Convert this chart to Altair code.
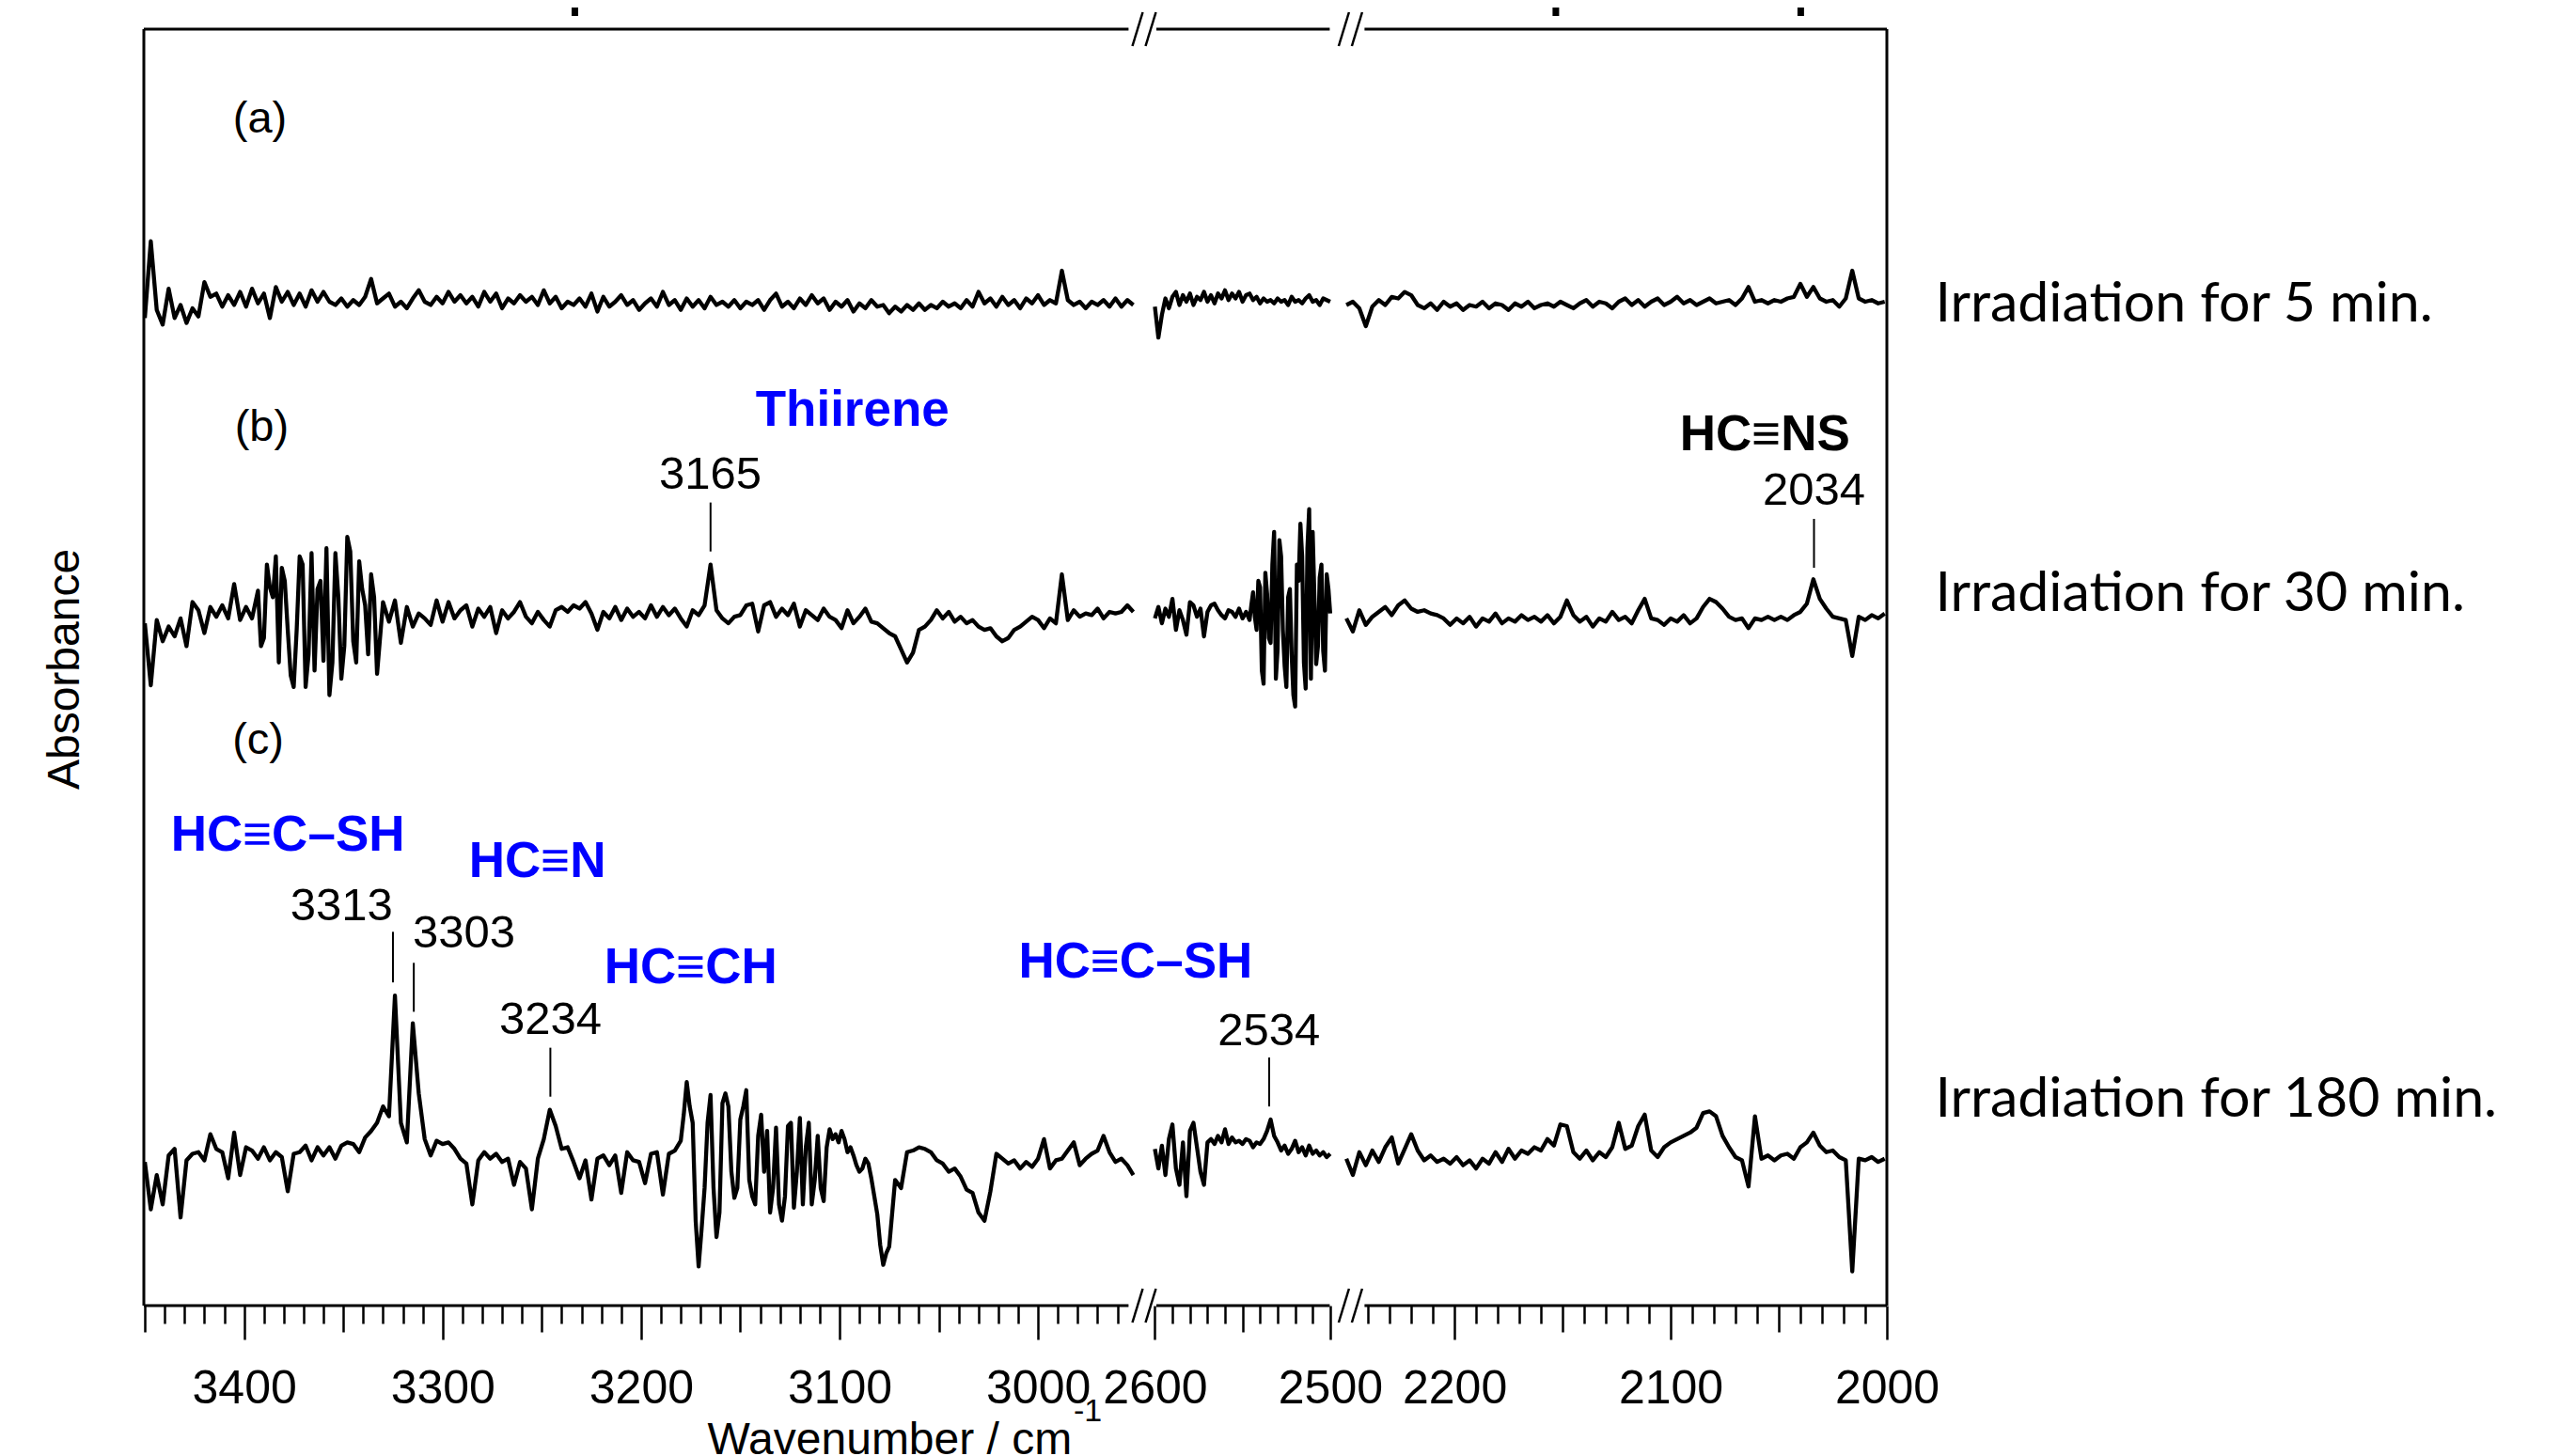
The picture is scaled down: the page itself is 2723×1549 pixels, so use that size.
import altair as alt
import pandas as pd

# ---------------- data ----------------
# baselines of the three spectra (arbitrary absorbance units)
OFFSETS = {"a": 615, "b": 424, "c": 92}
# segment grids: start wavenumber and step (cm-1)
SEG1_START, SEG1_STEP = 3450, 3
SEG2_START, SEG2_STEP = 2600, 2
SEG3_START, SEG3_STEP = 2250, 3

A_SEG1 = [-10, 37, -5, -14, 8, -10, -2, -13, -4, -9,
          12, 3, 5, -3, 4, -2, 6, -3, 8, -1,
          5, -10, 9, 0, 6, -2, 5, -3, 7, 0,
          6, 0, -2, 2, -3, 1, -2, 3, 14, -1,
          2, 5, -3, 0, -4, 2, 7, 0, -2, 3,
          -1, 6, 0, 4, -1, 3, -3, 6, 0, 5,
          -4, 2, -1, 4, 0, 3, -2, 7, -1, 3,
          -4, 0, -2, 2, -3, 5, -6, 3, -3, 0,
          4, -2, 1, -5, -1, 2, -3, 6, -2, 1,
          -5, 2, -3, 1, -4, 3, -2, 0, -3, 1,
          -4, 0, -2, 1, -5, 1, 5, -3, 0, -4,
          2, -2, 4, -1, 2, -5, 0, -3, 1, -6,
          -1, -4, 1, -3, -2, -7, -3, -6, -2, -5,
          -1, -5, -2, -4, 0, -3, -1, -4, 1, -3,
          6, -1, 2, -3, 3, -2, 1, -4, 2, -1,
          4, -2, 1, -1, 19, 1, -2, 0, -4, 0,
          -2, 1, -3, 2, -3, 1, -2]
A_SEG2 = [-3, -22, -8, 2, -4, 3, 6, -2, 4, 0,
          5, -2, 3, 1, 6, 0, 4, -1, 5, 2,
          7, 1, 5, 2, 6, 0, 4, 5, 1, 3,
          -1, 2, 0, 1, -1, 2, 0, 1, -2, 3,
          0, 1, -1, 2, 4, 0, 1, -2, 2, 1, 0]
A_SEG3 = [-2, 0, -4, -15, -3, 1, -2, 3, 2, 6,
          4, -2, -4, -1, -5, 0, -3, -1, -5, -2,
          -3, 0, -4, -1, -2, -5, -1, -3, 0, -4,
          -2, -1, -3, 0, -2, -4, -1, 1, -3, 0,
          -1, -4, 0, 2, -2, 1, -3, 0, 2, -2,
          0, 3, -1, 1, -2, 0, 2, -1, 0, 1,
          -2, 2, 9, 0, 1, -1, 1, 0, 2, 3,
          11, 3, 9, 2, 0, 1, -3, 2, 19, 2,
          0, 1, -1, 0]

B_SEG1 = [-6, -44, -4, -17, -8, -14, -3, -20, 7, 2,
          -12, 4, -2, 5, -3, 18, -4, 4, -3, 14,
          -15, 16, 35, 28, -10, -45, 35, -45, 37, 15,
          -29, -50, 37, -40, 47, -17, 32, 5, 24, -37,
          7, -5, 8, -18, 4, -8, 0, -3, -7, 8,
          -5, 7, -3, 2, 5, -8, 3, -2, 4, -12,
          2, -3, 1, 7, -2, -6, 1, -4, -8, 2,
          4, 1, 5, 3, 7, 0, -10, 1, -3, 4,
          -4, 3, -2, 1, -3, 5, -2, 4, -1, 3,
          -3, -8, 2, -1, 5, 30, 2, -3, -6, -2,
          -1, 5, 6, -11, 5, 7, -2, 3, -1, 6,
          -8, 2, -1, -4, 3, -2, -4, -9, 2, -6,
          -2, 3, -5, -6, -9, -12, -14, -22, -30, -24,
          -10, -8, -4, 2, -3, 1, -5, -2, -6, -4,
          -8, -10, -9, -14, -17, -15, -10, -8, -5, -2,
          -4, -9, -3, -6, 24, -4, 2, -2, 0, -1,
          3, -3, 1, 0, 1, 5, 1]
# extra readings half-way between grid points in the noisiest stretch (from index 19)
B_SEG1_MID_FROM = 19
B_SEG1_MID = [-20, 30, 10, -30, 20, -38, -10, 30, -25, -35,
              20, 40, -30, 10, -20, 38, -30, 15, -25, 10]
B_SEG2 = [-3, 4, -6, 3, -2, 9, -10, 2, -4, -13,
          7, 5, -2, 3, -14, 1, 5, 6, 2, -1,
          -3, 2, 1, -2, 3, -3, 1, -4, 13, -10,
          16, -43, 12, -18, 50, -22, 35, -32, 10, -25,
          -57, 20, 35, -46, 64, 50, -31, 22, -23, 24, 0]
B_SEG2_MID_FROM = 27
B_SEG2_MID = [5, -2, 20, -35, 25, -15, 30, -40, 45, -10,
              -45, 15, -50, 30, 55, -30, 40, -40, 10, -20,
              30, -35, 15]
B_SEG3 = [-3, -11, 2, -7, -2, 1, 4, -1, 5, 8,
          3, 1, 2, 0, -1, -3, -7, -3, -6, -2,
          -8, -3, -5, 0, -6, -3, -5, -1, -4, -2,
          -5, -1, -6, -2, 8, -1, -5, -2, -8, -3,
          -5, 1, -4, -2, -6, 2, 9, -3, -4, -7,
          -3, -5, -1, -6, -3, 4, 9, 7, 3, -2,
          -4, -3, -9, -3, -4, -2, -4, -2, -4, -1,
          1, 6, 21, 9, 3, -2, -3, -4, -26, -2,
          -4, -1, -3, 0]

C_SEG1 = [-4, -33, -12, -30, 0, 4, -38, -3, 1, 2,
          -3, 13, 4, 2, -14, 14, -12, 5, 3, -2,
          5, -3, 2, -1, -22, 1, 2, 6, -3, 5,
          0, 5, -2, 6, 8, 7, 2, 11, 15, 20,
          30, 24, 98, 20, 8, 81, 38, 10, 0, 9,
          7, 8, 4, -2, -5, -30, -3, 2, -2, 1,
          -4, -2, -18, -4, -8, -33, -2, 10, 28, 18,
          4, 5, -4, -14, -3, -27, -2, 0, -6, 0,
          -23, 2, -3, -4, -17, 1, 2, -24, 1, 3,
          9, 45, 20, -68, -20, 37, -50, 32, 30, -26,
          22, 40, -25, 12, -10, -35, 17, -40, 18, -32,
          23, 5, -30, 12, -28, 16, 13, 15, 2, 0,
          -10, -2, -14, -36, -67, -56, -15, -20, 2, 3,
          5, 4, 2, -3, -5, -10, -8, -13, -21, -23,
          -35, -40, -22, 1, -2, -5, -3, -8, -4, -7,
          -2, 10, -8, -3, -2, 3, 8, -6, -2, 1,
          3, 12, 2, -4, -2, -6, -12]
C_SEG1_MID_FROM = 90
C_SEG1_MID = [25, 30, -40, -45, 20, -20, -35, 38, -10, -20,
              30, -15, -30, 25, 15, -20, -30, -25, 20, -10,
              -30, 20, -15, -20, 5, 10, 8, 10, 5, -6,
              -8, -5, -25, -55, -60]
C_SEG2 = [4, -8, 6, -12, 10, 19, -8, -18, 8, -25,
          15, 20, 5, -10, -18, 8, 10, 7, 12, 8,
          16, 7, 11, 8, 9, 7, 10, 9, 5, 8,
          7, 10, 15, 22, 12, 8, 3, 6, 1, 4,
          9, 2, 5, 0, 6, 1, 3, 0, 2, -1, 1]
C_SEG3 = [-2, -12, 2, -6, 3, -4, 5, 11, -5, 4,
          13, 3, -3, 0, -4, -2, -5, -1, -6, -3,
          -8, -2, -5, 2, -4, 4, -2, 3, 1, 5,
          3, 10, 6, 19, 18, 2, -2, 3, -3, 2,
          -1, 5, 20, 4, 6, 18, 25, 3, -1, 5,
          8, 10, 12, 14, 17, 26, 27, 24, 12, 5,
          -1, -3, -19, 24, -2, 0, -3, 0, 1, -2,
          5, 8, 14, 6, 2, 3, -1, -3, -71, -2,
          -3, -1, -4, -2]

# axis ticks and labels
TICKS1 = list(range(2960, 3451, 10))
TICKS2 = list(range(2500, 2601, 10))
TICKS3 = list(range(2000, 2241, 10))

# annotations: (label, wavenumber, absorbance)
ANN_PANEL_LABELS = [("(a)", 3392.0, 727), ("(b)", 3391.1, 538), ("(c)", 3392.9, 346)]
ANN_NUM1 = [("3165", 3165.1, 509), ("3313", 3350.9, 245), ("3303", 3289.2, 228), ("3234", 3245.7, 175)]
ANN_BLUE1 = [("Thiirene", 3093.5, 548), ("HC≡C–SH", 3378.0, 288), ("HC≡N", 3252.2, 272),
             ("HC≡CH", 3175.0, 207), ("HC≡C–SH", 2950.9, 210)]
ANN_NUM2 = [("2534", 2535.0, 168)]
ANN_NUM3 = [("2034", 2033.7, 499)]
ANN_BLACKBOLD3 = [("HC≡NS", 2056.4, 533)]
# peak marker lines: (wavenumber, from, to)
MARK1 = [(3165.0, 462, 492), (3325.0, 198, 229), (3314.5, 180, 210), (3245.7, 128, 158)]
MARK2 = [(2534.8, 122, 152)]
MARK3 = [(2033.7, 452, 482)]
IRRAD = [("Irradiation for 5 min.", 613), ("Irradiation for 30 min.", 436),
         ("Irradiation for 180 min.", 126)]

# ---------------- layout / style ----------------
FONT = "Liberation Sans"
W1, W2, W3, H = 1062, 218, 574, 1358
D1, D2, D3 = [2947.5, 3450.5], [2490.3, 2607.2], [2000.0, 2249.6]
YD = [0, 782]
BLUE = "#0000FF"
FRAME_W = 3
NUM_SIZE = 49


def seg(vals, start, step, key, first=0.0):
    return pd.DataFrame({"wn": [start - step * (first + i) for i in range(len(vals))],
                         "A": [OFFSETS[key] + v for v in vals], "trace": key})


df1 = pd.concat([seg(A_SEG1, SEG1_START, SEG1_STEP, "a"),
                 seg(B_SEG1, SEG1_START, SEG1_STEP, "b"),
                 seg(B_SEG1_MID, SEG1_START, SEG1_STEP, "b", B_SEG1_MID_FROM + 0.5),
                 seg(C_SEG1, SEG1_START, SEG1_STEP, "c"),
                 seg(C_SEG1_MID, SEG1_START, SEG1_STEP, "c", C_SEG1_MID_FROM + 0.5)])
df2 = pd.concat([seg(A_SEG2, SEG2_START, SEG2_STEP, "a"),
                 seg(B_SEG2, SEG2_START, SEG2_STEP, "b"),
                 seg(B_SEG2_MID, SEG2_START, SEG2_STEP, "b", B_SEG2_MID_FROM + 0.5),
                 seg(C_SEG2, SEG2_START, SEG2_STEP, "c")])
df3 = pd.concat([seg(A_SEG3, SEG3_START, SEG3_STEP, "a"), seg(B_SEG3, SEG3_START, SEG3_STEP, "b"),
                 seg(C_SEG3, SEG3_START, SEG3_STEP, "c")])


def xaxis(ticks):
    return alt.Axis(values=ticks, domain=False, grid=False, title=None, format="d",
                    labelExpr="datum.value % 100 === 0 ? datum.label : ''",
                    tickSize={"condition": [{"test": "datum.value % 100 === 0", "value": 36},
                                            {"test": "datum.value % 50 === 0", "value": 28}],
                              "value": 19},
                    tickWidth=2.5, tickColor="black", labelColor="black", labelFont=FONT,
                    labelFontSize=50, labelPadding=27, labelFlush=False, labelOverlap=False)


def enc_x(dom, ticks):
    return alt.X("wn:Q", scale=alt.Scale(domain=dom, reverse=True, nice=False, zero=False),
                 axis=xaxis(ticks))


Y = alt.Y("A:Q", scale=alt.Scale(domain=YD, nice=False, zero=False), axis=None)


def texts(items, x, size, color="black", weight="normal"):
    d = pd.DataFrame(items, columns=["label", "wn", "A"])
    return alt.Chart(d).mark_text(font=FONT, fontSize=size, color=color, fontWeight=weight,
                                  align="center", baseline="middle").encode(x=x, y=Y, text="label:N")


def markers(items, x):
    d = pd.DataFrame(items, columns=["wn", "A", "A2"])
    return alt.Chart(d).mark_rule(color="black", strokeWidth=2).encode(x=x, y=Y, y2="A2:Q")


def rule(x1, x2, y1, y2, w=FRAME_W, **kw):
    one = pd.DataFrame({"k": [0]})
    return alt.Chart(one).mark_rule(color="black", strokeWidth=w, **kw).encode(
        x=alt.value(x1), x2=alt.value(x2), y=alt.value(y1), y2=alt.value(y2))


def rect(x1, x2, y1, y2):
    one = pd.DataFrame({"k": [0]})
    return alt.Chart(one).mark_rect(color="black").encode(
        x=alt.value(x1), x2=alt.value(x2), y=alt.value(y1), y2=alt.value(y2))


def free_text(txt, x, y, size, **kw):
    one = pd.DataFrame({"t": [txt]})
    return alt.Chart(one).mark_text(font=FONT, fontSize=size, color="black", **kw).encode(
        x=alt.value(x), y=alt.value(y), text="t:N")


def lines(df, x):
    return alt.Chart(df).mark_line(color="black", strokeWidth=4.3, strokeJoin="round").encode(
        x=x, y=Y, detail="trace:N")


# ---- panel 1 ----
X1 = enc_x(D1, TICKS1)
slashes = []
for cx in (1057.0, 1071.0, 1276.4, 1290.4):
    for y0 in (0, H):
        slashes.append(rule(cx - 5.5, cx + 5.5, y0 + 18, y0 - 18, w=2.5))
p1 = alt.layer(
    lines(df1, X1),
    texts(ANN_PANEL_LABELS, X1, 47),
    texts(ANN_NUM1, X1, NUM_SIZE),
    texts(ANN_BLUE1, X1, 53, BLUE, "bold"),
    markers(MARK1, X1),
    rule(0, 0, 0, H),
    rule(0, 1047.4, 0, 0),
    rule(0, 1047.4, H, H),
    *slashes,
    rect(455, 462, -23, -14),
    rule(-145, -145, -23, -23, strokeOpacity=0),
    free_text("Absorbance", -83, 681, 48, angle=270, align="center", baseline="middle"),
    free_text("Wavenumber / cm", 793.4, 1516, 48, align="center", baseline="alphabetic"),
    free_text("-1", 1004, 1481, 34, align="center", baseline="alphabetic"),
).properties(width=W1, height=H)

# ---- panel 2 ----
X2 = enc_x(D2, TICKS2)
p2 = alt.layer(
    lines(df2, X2),
    texts(ANN_NUM2, X2, NUM_SIZE),
    markers(MARK2, X2),
    rule(15, 199.4, 0, 0),
    rule(15, 199.4, H, H),
    rule(0, 0, -23, -23, strokeOpacity=0),
).properties(width=W2, height=H)

# ---- panel 3 ----
X3 = enc_x(D3, TICKS3)
irr = pd.DataFrame(IRRAD, columns=["label", "A"])
p3 = alt.layer(
    lines(df3, X3),
    texts(ANN_NUM3, X3, NUM_SIZE),
    texts(ANN_BLACKBOLD3, X3, 53, "black", "bold"),
    markers(MARK3, X3),
    rule(18.4, W3, 0, 0),
    rule(18.4, W3, H, H),
    rule(W3, W3, 0, H),
    rect(218.4, 225.4, -23, -14),
    rect(478.9, 485.9, -23, -14),
    alt.Chart(irr).mark_text(font="Lato", fontSize=59, color="black", align="left",
                             baseline="middle").encode(x=alt.value(625.4), y=Y, text="label:N"),
).properties(width=W3, height=H)

chart = alt.hconcat(p1, p2, p3, spacing=0, bounds="flush").properties(
    padding=0).configure_view(stroke=None)

chart.save("out.html", embed_options={"renderer": "svg", "actions": False})
